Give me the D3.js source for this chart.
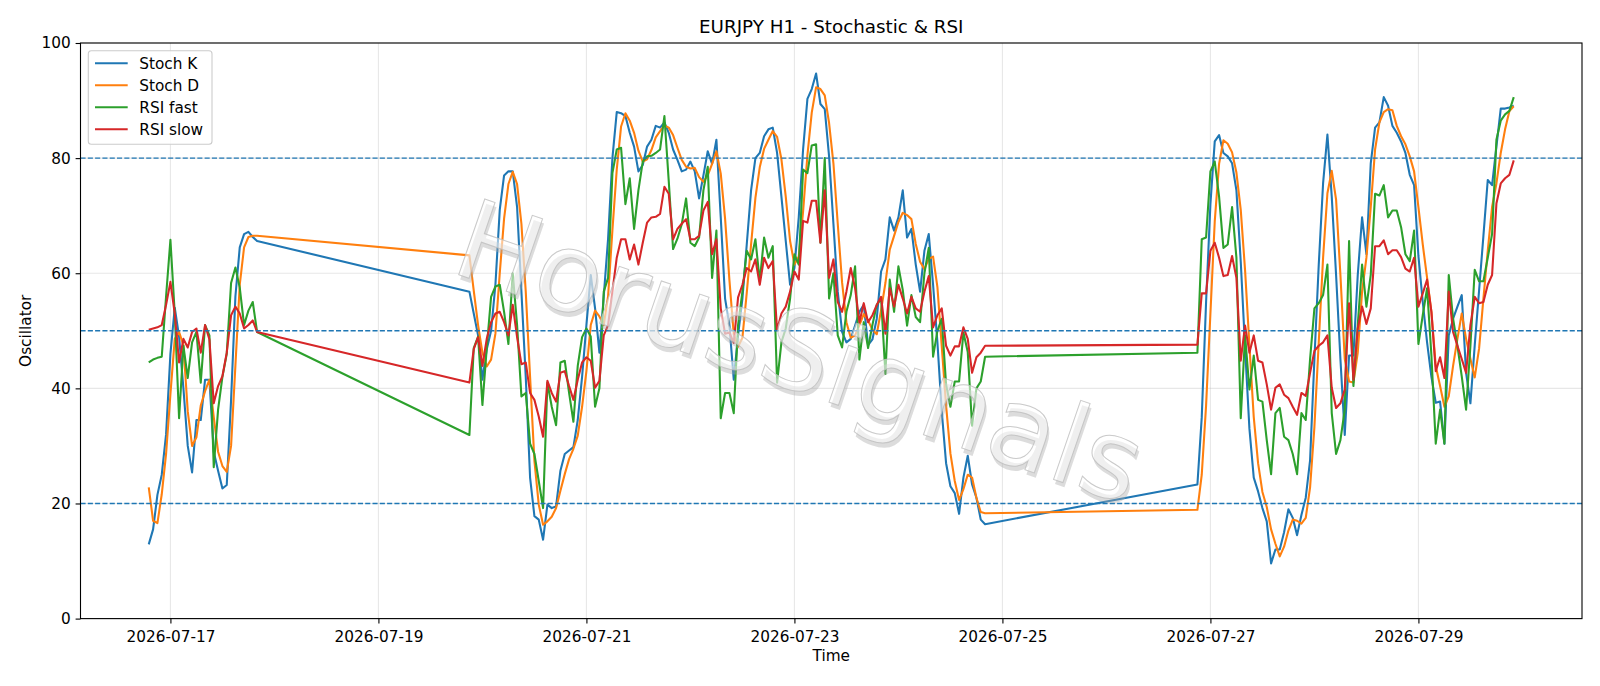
<!DOCTYPE html>
<html>
<head>
<meta charset="utf-8">
<script src="https://cdn.jsdelivr.net/npm/d3@7"></script>
<style>
  body { margin: 0; background: #fff; }
  svg { display: block; font-family: "DejaVu Sans", sans-serif; }
</style>
</head>
<body>
<div id="wrapper"></div>
<script>

// hourly bars, three runs (weekend gaps between them)
const segmentStarts = ["2026-07-16T19:00:00Z", "2026-07-19T21:00:00Z", "2026-07-26T21:00:00Z"]
const segmentLengths = [26, 120, 74]

const stochK = [
  // 07-16 19h .. 07-17 20h
  12.9, 15.5, 21.5, 25, 32, 46, 54, 49, 40, 30, 25.4, 34.5, 34.5, 41.5, 41.5, 29, 25.7, 22.6, 23.2, 38, 56, 64.5, 66.8, 67.2, 66.3, 65.6,
  // 07-19 21h .. 07-24 20h
  56.8, 53, 49.2, 41.5, 46.8, 50, 58, 71, 77, 77.7, 77.7, 71.5, 56.8, 42, 24.5, 17.8, 17.2, 13.7, 19.8, 19.2,
  19.5, 25.7, 28.6, 29.2, 29.8, 34.5, 42, 51, 59.7, 53.9, 46.2, 56, 66, 80, 88, 87.8, 87.3, 84.4, 82, 77.7,
  78.8, 82, 83.2, 85.6, 85.3, 86.2, 84.4, 81.5, 79.7, 77.7, 78, 79.4, 77.7, 73, 77, 81.2, 79, 83.2, 69.7, 55.6,
  51, 41.5, 49.2, 55.6, 65, 74.4, 80, 80.9, 83.8, 85, 85.3, 80.9, 73.3, 65.6, 58, 60.9, 69.7, 81.5, 90.3, 92,
  94.7, 89.4, 88.5, 80.3, 68.6, 56.8, 49.8, 48, 48.6, 50.9, 53.3, 54.5, 47.5, 48.5, 52.1, 60.3, 62.4, 69.7, 67.4, 69.7,
  74.4, 66.2, 67.7, 61.5, 56.8, 63.9, 66.8, 58, 48, 36, 27, 23, 21.8, 18.2, 24.5, 28.3, 23.3, 21, 17.2, 16.4,
  // 07-26 21h .. 07-29 22h
  23.3, 35, 55, 72, 82.9, 84, 80.9, 80.3, 79.1, 74.4, 62, 47, 33, 24.5, 22.1, 19.2, 16.9, 9.6, 12, 12,
  15, 19, 17.5, 14.5, 18, 21, 27.5, 45.1, 61.5, 75.6, 84.1, 73.3, 59.7, 45.1, 31.9, 45.7, 45.7, 59.7, 69.7, 63.3,
  79.1, 85.3, 86.2, 90.6, 89.1, 85.6, 84.4, 82.9, 80.9, 77.1, 75.3, 63, 55, 48, 42, 37.5, 37.7, 30.4, 49.2, 52.1,
  54.2, 56.2, 42.7, 37.4, 47.5, 57, 66.5, 76.2, 75.3, 82, 88.6, 88.6, 88.8, 89.1
]

const stochD = [
  22.8, 17, 16.6, 21.6, 28.6, 39, 48.6, 49.8, 47.5, 36, 30, 31.5, 37, 39.5, 41.5, 35, 29, 26.5, 25.5, 30, 44, 58, 64.5, 66.3, 66.5, 66.5,
  63.1, 57, 51, 46.2, 43.8, 45, 49.5, 60, 69.5, 75.5, 77.6, 75.5, 68.6, 56.8, 42, 27.4, 19.8, 16.3, 16.9, 17.7,
  19.2, 22.2, 25.1, 27.7, 29.5, 31.8, 36.8, 43, 51, 53.5, 52.5, 51, 56, 67.5, 78, 85.5, 87.8, 86.5, 84.4, 81.3,
  79.4, 79.8, 81.4, 83.6, 84.7, 85.7, 85.3, 84, 81.8, 79.7, 78.5, 78.2, 78.3, 76.7, 75.9, 77, 79, 81.2, 77.3, 69.5,
  58.8, 49.4, 47.2, 48.8, 56.6, 65, 73.1, 78.4, 81.6, 83.2, 84.7, 83.7, 79.8, 73.3, 65.6, 61.5, 62.9, 70.7, 80.5, 87.9,
  92.3, 92, 90.9, 86.1, 79.1, 68.6, 58.4, 51.5, 48.8, 49.2, 51, 52.9, 51.8, 50.2, 49.4, 53.6, 58.3, 64.1, 66.5, 68.9,
  70.5, 70.1, 69.4, 65.1, 62, 60.7, 62.5, 62.9, 57.6, 47.3, 37, 28.7, 23.9, 20.6, 22.5, 25, 24.5, 21, 18.5, 18.3,
  18.9, 25, 37, 53, 69, 79, 83.1, 82.5, 81, 77.5, 71, 60.5, 47.5, 35, 27, 22, 19.4, 15.5, 13, 10.8,
  12.5, 15.3, 17.2, 17, 16.5, 17.5, 22.8, 33.3, 48, 62.7, 73.9, 77.8, 72.8, 59.7, 45.1, 41.2, 41, 46.2, 56.8, 62.7,
  71.5, 81.5, 86.2, 88, 88.5, 88.3, 85.6, 83.8, 82.4, 80.3, 77.7, 71.5, 65, 59.2, 53.3, 43.9, 40.4, 36.8, 38.6, 43.9,
  48.6, 53, 48.6, 45.1, 41.9, 46.9, 55.6, 63.9, 71.5, 75.6, 80.9, 85, 88.2, 89
]

const rsiFast = [
  44.5, 45, 45.3, 45.5, 56, 65.8, 53, 34.8, 47.4, 41.8, 48, 49.8, 41, 51, 49.2, 26.3, 36.3, 42, 46, 58.3, 61, 57.5, 51, 53.5, 55, 49.8,
  31.9, 47, 49, 37.1, 47, 55.9, 57.7, 58, 53.3, 47.7, 60, 51, 38.6, 39.2, 30.4, 28.6, 23.9, 19.2, 41, 36.8,
  33.6, 44.5, 44.8, 39.2, 34.2, 43.9, 48.9, 50.4, 49, 36.8, 40, 56.8, 59.2, 77.4, 81.5, 81.8, 72, 76.5, 67.7, 74.4,
  79.4, 80.3, 80.4, 80.9, 81.5, 87.3, 76, 64.2, 66, 68.5, 73, 65.3, 64.7, 66.2, 74.4, 78.5, 59.2, 67.4, 34.8, 39.2,
  39.2, 35.7, 51, 56.8, 63.9, 62.4, 65.9, 58.6, 66.2, 62.7, 64.7, 41, 48, 50.4, 55.6, 63.3, 61.5, 78, 77.4, 82.2,
  82.4, 65.3, 80, 55.6, 60, 49.2, 47.1, 53.3, 56.2, 61.2, 45, 51.5, 47, 51, 54.5, 55.6, 42.5, 58.9, 53.3, 61.2,
  57.1, 50.9, 56.2, 52.4, 51.5, 60, 64.4, 45.5, 50, 52.1, 40.7, 36.8, 41.2, 41.2, 49.7, 46.3, 33.5, 40, 41.2, 45.5,
  46.2, 65.9, 66.2, 77.7, 79.4, 73.3, 64.4, 65, 71.5, 62.7, 34.8, 49.2, 39.8, 45.7, 38, 37.7, 31, 25.1, 35.7, 36.6,
  31.6, 31, 28.6, 25.1, 35.7, 34.5, 45.1, 53.9, 54.8, 56.2, 61.5, 35.7, 28.6, 31, 36.3, 65.6, 40.4, 51, 61.5, 54.2,
  59.7, 73.8, 73.5, 75.3, 69.7, 70.9, 70.9, 68, 63.3, 62.1, 67.4, 47.7, 52.7, 57.4, 45.7, 30.4, 36.3, 30.4, 59.7, 52.1,
  47.4, 42.1, 36.3, 47.4, 60.6, 58.6, 58.6, 62.7, 66.8, 83.2, 86.5, 87.6, 88.2, 90.6
]

const rsiSlow = [
  50.2, 50.4, 50.6, 51, 54.5, 58.5, 53, 44.5, 48.6, 47.1, 49.8, 50.4, 46.2, 51, 48.5, 37.4, 40.4, 42.1, 46.2, 52.7, 54.2, 53, 50.4, 51, 51.8, 49.8,
  41, 46.8, 48.9, 43.9, 48.6, 51.5, 53, 53.3, 51.5, 49.2, 54.5, 48.9, 44.2, 44.5, 39.2, 38, 35.1, 31.6, 41.3, 39.2,
  37.7, 42.7, 43, 40.4, 38, 41.5, 44.5, 45.4, 44.8, 40.1, 41.3, 49.2, 51, 56.8, 62.7, 65.9, 65.9, 62.4, 65, 61.5,
  65.3, 68.8, 69.7, 69.8, 70.3, 75, 73.8, 65.9, 67.7, 68.6, 69.4, 65.9, 65.9, 66.5, 70.9, 72.4, 63.3, 65.9, 53.9, 49.5,
  49.7, 47.9, 55.8, 58, 60.9, 60.3, 62.4, 58, 62.7, 60.9, 62.1, 50.1, 53, 54.2, 56.8, 60.3, 58.9, 69.1, 68.8, 72.6,
  72.6, 65.3, 74.4, 59.2, 62.4, 55, 53.3, 56.8, 60.9, 57.4, 51.5, 54.8, 51.5, 52.7, 54.5, 55.9, 49.5, 57.4, 54.2, 58,
  55.6, 53, 55.9, 53.9, 53.3, 56.8, 59.5, 50.6, 52.7, 53.9, 47.4, 45.7, 47.3, 47.3, 50.6, 48.6, 42.7, 45.4, 46.2, 47.4,
  47.6, 56.5, 56.5, 63.9, 65.3, 62.7, 59.5, 59.7, 63, 59.2, 44.8, 50.9, 46.2, 49.2, 44.8, 44.5, 40.7, 36.3, 40.1, 40.7,
  38.9, 38.3, 36.8, 35.4, 39.2, 38.7, 42.7, 46.5, 47.4, 48, 49.2, 40.1, 36.6, 37.4, 39.8, 54.8, 41.5, 50.4, 54.2, 51.2,
  53.9, 64.7, 64.7, 65.7, 63.3, 64, 64, 62.8, 60.8, 60.3, 62.7, 54.2, 56.5, 58.9, 53.3, 43, 45.4, 41.8, 56.8, 49.8,
  47.4, 45.1, 42.7, 51, 55.9, 54.8, 55, 58, 59.7, 72.1, 75.6, 76.5, 77.1, 79.6
]

const seriesNames = ["Stoch K", "Stoch D", "RSI fast", "RSI slow"]
const seriesColors = ["#1f77b4", "#ff7f0e", "#2ca02c", "#d62728"]
const levelLines = [20, 50, 80]
const yTicks = [0, 20, 40, 60, 80, 100]
const xTickDates = ["2026-07-17", "2026-07-19", "2026-07-21", "2026-07-23", "2026-07-25", "2026-07-27", "2026-07-29"]

function drawChart() {

    const fontSize = 15.3

    let dimensions = {
        width: 1600,
        height: 686,
        margin: {
            top: 43,
            right: 18,
            bottom: 67.4,
            left: 80.5,
        },
    }
    dimensions.boundedWidth = dimensions.width -
        dimensions.margin.left -
        dimensions.margin.right
    dimensions.boundedHeight = dimensions.height -
        dimensions.margin.top -
        dimensions.margin.bottom

    const times = segmentStarts.flatMap((s, i) =>
        d3.range(segmentLengths[i]).map(h => d3.utcHour.offset(new Date(s), h)))

    const seriesValues = [stochK, stochD, rsiFast, rsiSlow]

    const svg = d3.select("#wrapper")
      .append("svg")
        .attr("width", dimensions.width)
        .attr("height", dimensions.height)

    const bounds = svg.append("g")
        .attr("transform", `translate(${dimensions.margin.left}, ${dimensions.margin.top})`)

    // matplotlib style 5% padding on x
    const [t0, t1] = d3.extent(times)
    const pad = (t1 - t0) * 0.05
    const xScale = d3.scaleUtc()
        .domain([new Date(+t0 - pad), new Date(+t1 + pad)])
        .range([0, dimensions.boundedWidth])

    const yScale = d3.scaleLinear()
        .domain([0, 100])
        .range([dimensions.boundedHeight, 0])

    const tickDates = xTickDates.map(d => new Date(d + "T00:00:00Z"))

    // grid
    const grid = bounds.append("g")
        .attr("stroke", "#b0b0b0")
        .attr("stroke-opacity", 0.3)
        .attr("stroke-width", 1.1)
    grid.selectAll(".vgrid")
        .data(tickDates)
        .join("line")
        .attr("x1", d => xScale(d)).attr("x2", d => xScale(d))
        .attr("y1", 0).attr("y2", dimensions.boundedHeight)
    grid.selectAll(".hgrid")
        .data(yTicks)
        .join("line")
        .attr("x1", 0).attr("x2", dimensions.boundedWidth)
        .attr("y1", d => yScale(d)).attr("y2", d => yScale(d))

    // series
    const lineGen = d3.line()
        .x((d, i) => xScale(times[i]))
        .y(d => yScale(d))

    bounds.append("g")
        .selectAll("path")
        .data(seriesValues)
        .join("path")
        .attr("d", d => lineGen(d))
        .attr("fill", "none")
        .attr("stroke", (d, i) => seriesColors[i])
        .attr("stroke-width", 2.08)
        .attr("stroke-linejoin", "round")

    // level lines
    bounds.append("g")
        .selectAll("line")
        .data(levelLines)
        .join("line")
        .attr("x1", 0).attr("x2", dimensions.boundedWidth)
        .attr("y1", d => yScale(d)).attr("y2", d => yScale(d))
        .attr("stroke", "#1f77b4")
        .attr("stroke-width", 1.39)
        .attr("stroke-dasharray", "5.1,2.2")

    // watermark
    const wm = svg.append("g")
        .attr("transform", "translate(800, 352) rotate(19)")
        .style("font-size", "110px")
    wm.append("text")
        .attr("x", 3).attr("y", 4)
        .attr("text-anchor", "middle")
        .attr("dominant-baseline", "central")
        .attr("fill", "#a8a8a8")
        .attr("fill-opacity", 0.4)
        .text("HorusSignals")
    wm.append("text")
        .attr("text-anchor", "middle")
        .attr("dominant-baseline", "central")
        .attr("fill", "#ffffff")
        .attr("fill-opacity", 0.55)
        .attr("stroke", "#bdbdbd")
        .attr("stroke-opacity", 0.8)
        .attr("stroke-width", 1)
        .text("HorusSignals")

    // axes
    bounds.append("g")
        .attr("transform", `translate(0, ${dimensions.boundedHeight})`)
        .call(d3.axisBottom(xScale)
            .tickValues(tickDates)
            .tickFormat(d3.utcFormat("%Y-%m-%d"))
            .tickSize(4.9)
            .tickPadding(8.1)
            .tickSizeOuter(0))
        .call(g => g.select(".domain").remove())
    bounds.append("g")
        .call(d3.axisLeft(yScale)
            .tickValues(yTicks)
            .tickSize(4.9)
            .tickPadding(4.9)
            .tickSizeOuter(0))
        .call(g => g.select(".domain").remove())
    svg.selectAll(".tick text")
        .style("font-family", "DejaVu Sans")
        .style("font-size", fontSize + "px")
        .attr("fill", "#000")
    svg.selectAll(".tick line")
        .attr("stroke", "#000")
        .attr("stroke-width", 1.1)

    // frame
    bounds.append("rect")
        .attr("width", dimensions.boundedWidth)
        .attr("height", dimensions.boundedHeight)
        .attr("fill", "none")
        .attr("stroke", "#000")
        .attr("stroke-width", 1.1)

    // labels
    svg.append("text")
        .attr("x", dimensions.margin.left + dimensions.boundedWidth / 2)
        .attr("y", 33)
        .attr("text-anchor", "middle")
        .style("font-size", "18.3px")
        .text("EURJPY H1 - Stochastic & RSI")
    svg.append("text")
        .attr("x", dimensions.margin.left + dimensions.boundedWidth / 2)
        .attr("y", 661)
        .attr("text-anchor", "middle")
        .style("font-size", fontSize + "px")
        .text("Time")
    svg.append("text")
        .attr("transform", `translate(31, ${dimensions.margin.top + dimensions.boundedHeight / 2}) rotate(-90)`)
        .attr("text-anchor", "middle")
        .style("font-size", fontSize + "px")
        .text("Oscillator")

    // legend
    const legend = svg.append("g")
        .attr("transform", "translate(88.3, 50.7)")
    legend.append("rect")
        .attr("width", 123.7)
        .attr("height", 93.6)
        .attr("rx", 3)
        .attr("fill", "#fff")
        .attr("fill-opacity", 0.8)
        .attr("stroke", "#cccccc")
        .attr("stroke-width", 1.1)
    const item = legend.selectAll(".item")
        .data(seriesNames)
        .join("g")
        .attr("transform", (d, i) => `translate(0, ${12.6 + i * 22})`)
    item.append("line")
        .attr("x1", 6.7).attr("x2", 39.4)
        .attr("stroke", (d, i) => seriesColors[i])
        .attr("stroke-width", 2.08)
    item.append("text")
        .attr("x", 51)
        .attr("dy", "0.36em")
        .style("font-size", fontSize + "px")
        .text(d => d)
}

drawChart()
</script>
</body>
</html>
